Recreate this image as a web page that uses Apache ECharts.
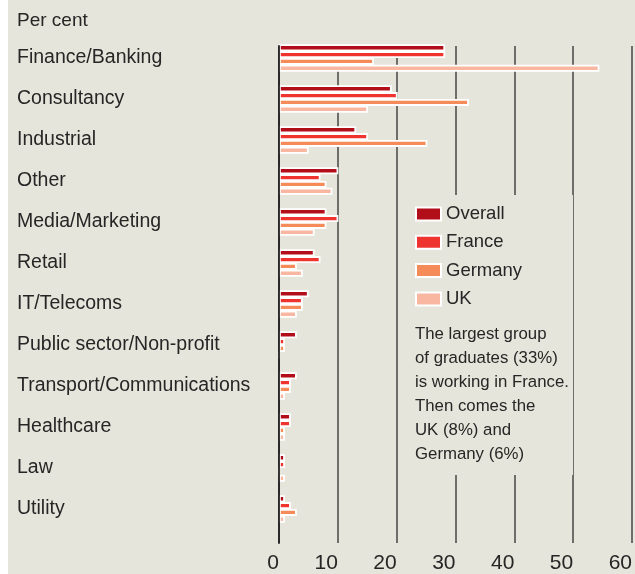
<!DOCTYPE html>
<html>
<head>
<meta charset="utf-8">
<script src="https://cdn.jsdelivr.net/npm/echarts@6/dist/echarts.min.js"></script>
<style>
  html, body { margin: 0; padding: 0; background: #ffffff; }
  #chart { position: absolute; left: 8px; top: 0; width: 627px; height: 574px; }
</style>
</head>
<body>
<div id="chart"></div>
<script>
  var categories = ['Finance/Banking', 'Consultancy', 'Industrial', 'Other', 'Media/Marketing', 'Retail',
    'IT/Telecoms', 'Public sector/Non-profit', 'Transport/Communications', 'Healthcare', 'Law', 'Utility'];
  var overall = [28, 19, 13, 10, 8, 6, 5, 3, 3, 2, 1, 1];
  var france  = [28, 20, 15, 7, 10, 7, 4, 1, 2, 2, 1, 2];
  var germany = [16, 32, 25, 8, 8, 3, 4, 1, 2, 1, 0, 3];
  var uk      = [54, 15, 5, 9, 6, 4, 3, 0, 1, 1, 1, 1];
  var seriesNames = ['Overall', 'France', 'Germany', 'UK'];
  var colors = ['#b20e1a', '#ef3430', '#f68b5a', '#f9b6a0'];
  var note = ['The largest group', 'of graduates (33%)', 'is working in France.',
    'Then comes the', 'UK (8%) and', 'Germany (6%)'];

  var font = "'Liberation Sans', Arial, sans-serif";
  var ink = '#262626';
  var bg = '#e5e5db';

  var chart = echarts.init(document.getElementById('chart'));

  function bar(name, data, i) {
    return {
      name: name,
      type: 'bar',
      xAxisIndex: 0,
      yAxisIndex: 0,
      barWidth: 7,
      barGap: '-3%',
      itemStyle: { color: colors[i], borderColor: '#ffffff', borderWidth: 1.8 },
      data: data
    };
  }

  var option = {
    animation: false,
    backgroundColor: bg,
    title: {
      text: 'Per cent',
      left: 9,
      top: 11,
      padding: 0,
      textStyle: { fontFamily: font, fontSize: 19, fontWeight: 'normal', color: ink }
    },
    legend: {
      data: seriesNames,
      orient: 'vertical',
      left: 407,
      top: 203,
      padding: 0,
      icon: 'rect',
      itemWidth: 25,
      itemHeight: 13,
      itemGap: 6.3,
      z: 10,
      textStyle: { fontFamily: font, fontSize: 18.5, lineHeight: 22, color: ink }
    },
    grid: [
      { left: 271, width: 360.5, top: 37.5, height: 492 },
      { left: 271, width: 360.5, top: 46, bottom: 30 }
    ],
    xAxis: [
      { gridIndex: 0, type: 'value', min: 0, max: 60, show: false },
      {
        gridIndex: 1, type: 'value', min: 0, max: 60, interval: 10,
        axisLine: { show: false },
        axisTick: { show: false },
        splitLine: { show: true, lineStyle: { color: '#444444', width: 1.5 } },
        axisLabel: { align: 'right', margin: 10, fontFamily: font, fontSize: 21, color: ink }
      }
    ],
    yAxis: [
      {
        gridIndex: 0, type: 'category', inverse: true, data: categories,
        axisLine: { show: false },
        axisTick: { show: false },
        axisLabel: { align: 'left', margin: 262, fontFamily: font, fontSize: 19.5, color: ink }
      },
      {
        gridIndex: 1, type: 'value', min: 0, max: 1, z: 5,
        axisLine: { show: true, lineStyle: { color: '#222222', width: 1.8 } },
        axisTick: { show: false },
        axisLabel: { show: false },
        splitLine: { show: false }
      }
    ],
    graphic: [
      {
        type: 'rect', z: 8, silent: true,
        shape: { x: 398, y: 195, width: 167, height: 280 },
        style: { fill: bg }
      },
      {
        type: 'text', z: 9, silent: true,
        left: 407, top: 322,
        style: {
          text: note.join('\n'),
          font: '16.8px ' + font,
          lineHeight: 24,
          fill: ink
        }
      }
    ],
    series: [
      bar(seriesNames[0], overall, 0),
      bar(seriesNames[1], france, 1),
      bar(seriesNames[2], germany, 2),
      bar(seriesNames[3], uk, 3)
    ]
  };

  chart.setOption(option);
</script>
</body>
</html>
